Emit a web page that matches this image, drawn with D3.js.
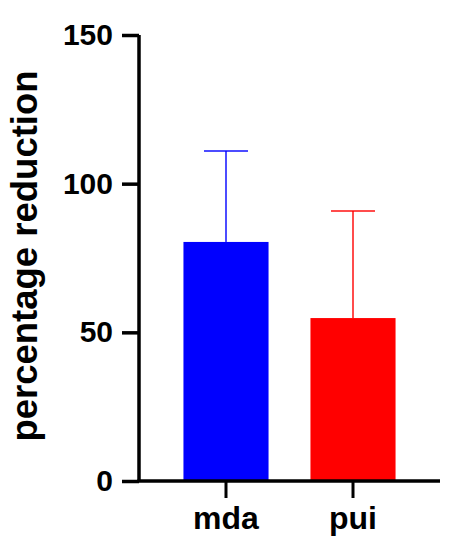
<!DOCTYPE html>
<html><head><meta charset="utf-8">
<script src="https://cdn.jsdelivr.net/npm/d3@7"></script>
<style>body{margin:0;background:#fff}</style>
</head><body>
<script>
const categories = ["mda", "pui"];
const means = [80.4, 54.8];
const errors = [30.6, 36.0];
const colors = ["#0000ff", "#ff0000"];
const yTicks = [0, 50, 100, 150];
const yTitle = "percentage reduction";

const W = 450, H = 550;
const svg = d3.select("body").append("svg").attr("width", W).attr("height", H);
const font = "'Liberation Sans', Arial, sans-serif";

const x = d3.scaleBand().domain(categories).range([139, 440]).paddingInner(0.33).paddingOuter(0.35);
const y = d3.scaleLinear().domain([0, 150]).range([481, 35]);

// bars
svg.selectAll("rect.bar").data(categories).enter().append("rect")
  .attr("x", d => x(d)).attr("width", x.bandwidth())
  .attr("y", (d, i) => y(means[i])).attr("height", (d, i) => y(0) - y(means[i]))
  .attr("fill", (d, i) => colors[i]);

// error bars (upper only)
const capW = 44;
categories.forEach((c, i) => {
  const cx = x(c) + x.bandwidth() / 2;
  svg.append("line").attr("x1", cx).attr("x2", cx)
    .attr("y1", y(means[i])).attr("y2", y(means[i] + errors[i]))
    .attr("stroke", colors[i]).attr("stroke-width", 2).attr("stroke-opacity", 0.7);
  svg.append("line").attr("x1", cx - capW / 2).attr("x2", cx + capW / 2)
    .attr("y1", y(means[i] + errors[i])).attr("y2", y(means[i] + errors[i]))
    .attr("stroke", colors[i]).attr("stroke-width", 2).attr("stroke-opacity", 0.7);
});

// y axis
const yAxis = svg.append("g").attr("transform", "translate(139,0)")
  .call(d3.axisLeft(y).tickValues(yTicks).tickSize(17).tickPadding(9).tickFormat(d3.format("d")));
yAxis.select(".domain").attr("stroke", "#000").attr("stroke-width", 3.5).attr("d", `M0,${y(150)}V${y(0)}`);
yAxis.selectAll(".tick line").attr("stroke", "#000").attr("stroke-width", 3.5);
yAxis.selectAll(".tick text").attr("font-family", font).attr("font-weight", "bold").attr("font-size", 30).attr("fill", "#000");

// x axis
const xAxis = svg.append("g").attr("transform", `translate(0,${y(0)})`)
  .call(d3.axisBottom(x).tickSize(17).tickPadding(8));
xAxis.select(".domain").attr("stroke", "#000").attr("stroke-width", 3.5).attr("d", `M137.5,0H440`);
xAxis.selectAll(".tick line").attr("stroke", "#000").attr("stroke-width", 3);
xAxis.selectAll(".tick text").attr("font-family", font).attr("font-weight", "bold").attr("font-size", 32).attr("fill", "#000");

// y title
svg.append("text").attr("transform", "translate(37,256) rotate(-90)")
  .attr("text-anchor", "middle").attr("font-family", font).attr("font-weight", "bold")
  .attr("font-size", 36.5).attr("fill", "#000").text(yTitle);
</script>
</body></html>
